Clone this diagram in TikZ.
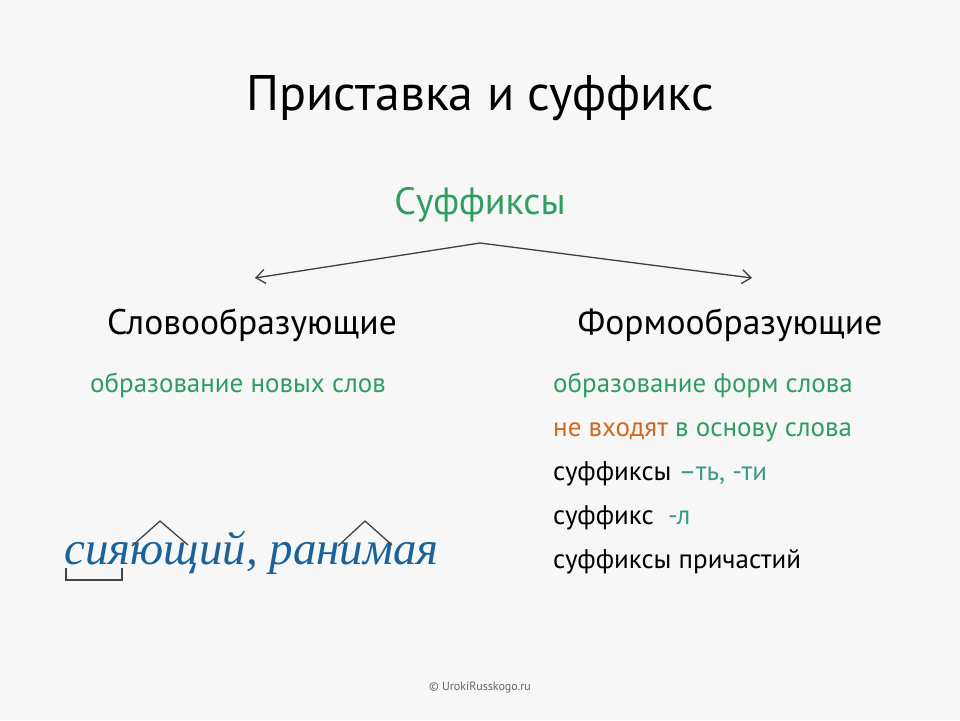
\documentclass[tikz,border=0pt]{standalone}
\usepackage{fontspec}
\setmainfont{PT Sans}
\newfontfamily\handfont{Liberation Serif}
\usetikzlibrary{arrows.meta}
\definecolor{bg}{HTML}{F7F7F7}
\definecolor{grn}{HTML}{2E9E5E}
\definecolor{org}{HTML}{D2691E}
\definecolor{teal}{HTML}{3A9A8A}
\definecolor{hand}{HTML}{1A6299}
\definecolor{mark}{HTML}{444444}
\tikzset{
  title/.style={font=\fontsize{50}{56}\selectfont, text=black, inner sep=0pt},
  head/.style={font=\fontsize{38}{44}\selectfont, text=grn, inner sep=0pt},
  branch/.style={font=\fontsize{35.5}{40}\selectfont, text=black, inner sep=0pt},
  line/.style={font=\fontsize{27}{32}\selectfont, text=black, inner sep=0pt, anchor=base west},
  conn/.style={draw=black!75, line width=1.3pt, -{Straight Barb[length=9pt,width=14pt]}},
  morph/.style={draw=mark, line width=1.3pt},
}
\begin{document}
\begin{tikzpicture}[x=1pt,y=-1pt]
\fill[bg] (0,0) rectangle (960,720);
\useasboundingbox (0,0) rectangle (960,720);
\node[title, anchor=base] (t) at (480,110) {Приставка и суффикс};
\node[head, anchor=base] (h) at (480,214) {Суффиксы};
\coordinate (top) at (480,243);
\node[branch, anchor=base] (l) at (252,334) {Словообразующие};
\node[branch, anchor=base] (r) at (730,334) {Формообразующие};
\coordinate (la) at (255,278);
\coordinate (ra) at (752,278);
\draw[conn] (top) -- (la);
\draw[conn] (top) -- (ra);
\node[line, text=grn] (l1) at (90,392) {образование новых слов};
\node[line, text=grn] (r1) at (553,392) {образование форм слова};
\node[line] (r2) at (553,436) {\textcolor{org}{не входят} \textcolor{grn}{в основу слова}};
\node[line] (r3) at (553,480) {суффиксы \textcolor{teal}{--ть, -ти}};
\node[line] (r4) at (553,524) {суффикс \ \textcolor{teal}{-л}};
\node[line] (r5) at (553,568) {суффиксы причастий};
\node[inner sep=0pt, anchor=base west, text=hand, font=\handfont\itshape\fontsize{47}{52}\selectfont] (hw) at (64,564) {сияющий, ранимая};
\draw[morph] (132,546) -- (160,521) -- (188,545);
\draw[morph] (338,546) -- (365,521) -- (392,545);
\draw[morph] (66,568) -- (66,580) -- (122,580) -- (122,568);
\node[inner sep=0pt, anchor=center, text=black!60, font=\fontsize{12}{14}\selectfont] (wm) at (480,688) {© UrokiRusskogo.ru};
\end{tikzpicture}
\end{document}
